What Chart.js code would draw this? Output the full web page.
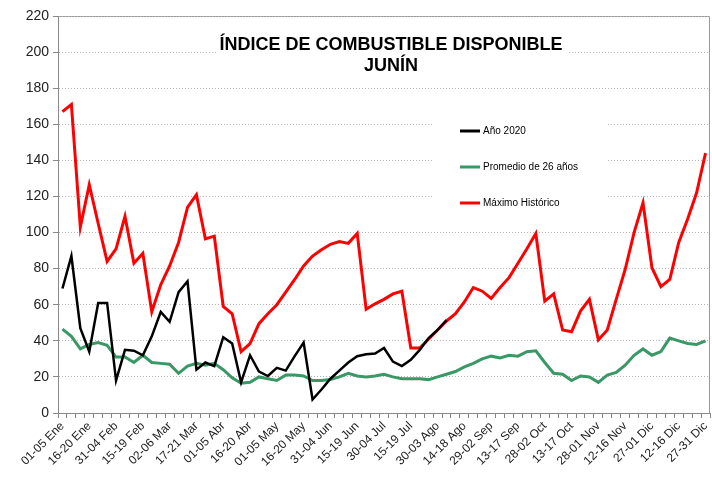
<!DOCTYPE html>
<html>
<head>
<meta charset="utf-8">
<script src="https://cdn.jsdelivr.net/npm/chart.js@4/dist/chart.umd.min.js"></script>
<style>
  html, body { margin: 0; padding: 0; background: #fff; }
  #wrap { width: 712px; height: 478px; }
</style>
</head>
<body>
<div id="wrap"><canvas id="chart"></canvas></div>
<script>
// ─── Datos ──────────────────────────────────────

const pentadas = [
  '01-05 Ene','06-10 Ene','11-15 Ene','16-20 Ene','21-25 Ene','26-30 Ene',
  '31-04 Feb','05-09 Feb','10-14 Feb','15-19 Feb','20-24 Feb','25-01 Mar',
  '02-06 Mar','07-11 Mar','12-16 Mar','17-21 Mar','22-26 Mar','27-31 Mar',
  '01-05 Abr','06-10 Abr','11-15 Abr','16-20 Abr','21-25 Abr','26-30 Abr',
  '01-05 May','06-10 May','11-15 May','16-20 May','21-25 May','26-30 May',
  '31-04 Jun','05-09 Jun','10-14 Jun','15-19 Jun','20-24 Jun','25-29 Jun',
  '30-04 Jul','05-09 Jul','10-14 Jul','15-19 Jul','20-24 Jul','25-29 Jul',
  '30-03 Ago','04-08 Ago','09-13 Ago','14-18 Ago','19-23 Ago','24-28 Ago',
  '29-02 Sep','03-07 Sep','08-12 Sep','13-17 Sep','18-22 Sep','23-27 Sep',
  '28-02 Oct','03-07 Oct','08-12 Oct','13-17 Oct','18-22 Oct','23-27 Oct',
  '28-01 Nov','02-06 Nov','07-11 Nov','12-16 Nov','17-21 Nov','22-26 Nov',
  '27-01 Dic','02-06 Dic','07-11 Dic','12-16 Dic','17-21 Dic','22-26 Dic',
  '27-31 Dic'
];

const anio2020 = [
  69, 87, 47, 34, 61, 61, 18, 35, 34.5, 32, 42.5, 56, 50.5, 67, 73, 24, 28, 26,
  42, 38.5, 17, 32, 23, 20.5, 25, 23.5, 31.5, 39, 7.5, 13, 19, 23.5, 28, 31.5,
  32.5, 33, 36, 28.5, 26, 29.5, 35, 41.5, 46, 51.5
];

const promedio26 = [
  46.5, 42.5, 35.5, 38, 39, 37.5, 31, 31, 28, 32, 28, 27.5, 27, 22, 26, 27.5,
  26.5, 27.5, 24, 19.5, 16.5, 17, 20, 19, 18, 21, 21, 20.5, 18, 18, 18.5, 20,
  22, 20.5, 20, 20.5, 21.5, 20, 19, 19, 19, 18.5, 20, 21.5, 23, 25.5, 27.5, 30,
  31.5, 30.5, 32, 31.5, 34, 34.5, 28, 22, 21.5, 18, 20.5, 20, 17, 21, 22.5,
  26.5, 32, 35.5, 32, 34, 41.5, 40, 38.5, 38, 40
];

const maximoHistorico = [
  167, 171, 103, 126.5, 105, 84, 91, 109, 83, 88.5, 56, 71, 81.5, 94.5, 114,
  121, 96.5, 98, 59, 55, 34, 38.5, 49.5, 55, 60, 67, 74, 81.5, 87, 90.5, 93.5,
  95, 94, 99.5, 57.5, 60.5, 63, 66, 67.5, 36, 36, 41, 46, 51, 55, 61.5, 69.5,
  67.5, 63.5, 69.5, 75, 83, 91, 99.5, 62, 66, 46, 45, 56.5, 63, 40.5, 46, 63,
  79.5, 100, 116.5, 80.5, 70, 74, 94.5, 107.5, 122, 144
];

const titulo = ['ÍNDICE DE COMBUSTIBLE DISPONIBLE', 'JUNÍN'];

const FONT = "'Liberation Sans', Arial, sans-serif";

// Título y leyenda dentro del área del gráfico (estilo Excel)
const cajaTexto = {
  id: 'cajaTexto',
  beforeDraw(chart) {
    const { ctx, chartArea: a } = chart;
    ctx.save();
    ctx.strokeStyle = '#9a9a9a';
    ctx.lineWidth = 1;
    ctx.beginPath();
    ctx.moveTo(a.left, a.top + 0.5);
    ctx.lineTo(a.right - 0.5, a.top + 0.5);
    ctx.lineTo(a.right - 0.5, a.bottom);
    ctx.stroke();
    ctx.restore();
  },
  beforeDatasetsDraw(chart) {
    const { ctx } = chart;
    ctx.save();
    // título
    ctx.fillStyle = '#fff';
    ctx.fillRect(216, 32, 352, 44);
    ctx.fillStyle = '#000';
    ctx.font = 'bold 18px ' + FONT;
    ctx.textAlign = 'center';
    ctx.textBaseline = 'middle';
    ctx.fillText(titulo[0], 391, 45);
    ctx.fillText(titulo[1], 391, 66);

    // leyenda
    ctx.fillStyle = '#fff';
    ctx.fillRect(432, 104, 175, 112);
    ctx.font = '10px ' + FONT;
    ctx.textAlign = 'left';
    chart.data.datasets.forEach((ds, i) => {
      const y = 131 + i * 36;
      ctx.strokeStyle = ds.borderColor;
      ctx.lineWidth = 3;
      ctx.beginPath();
      ctx.moveTo(460, y);
      ctx.lineTo(480, y);
      ctx.stroke();
      ctx.fillStyle = '#000';
      ctx.fillText(ds.label, 483, y);
    });
    ctx.restore();
  }
};

new Chart(document.getElementById('chart'), {
  type: 'line',
  data: {
    labels: pentadas,
    datasets: [
      { label: 'Año 2020', data: anio2020, borderColor: '#000000', borderWidth: 2.5 },
      { label: 'Promedio de 26 años', data: promedio26, borderColor: '#3a9866', borderWidth: 3 },
      { label: 'Máximo Histórico', data: maximoHistorico, borderColor: '#ff0000', borderWidth: 3 },
    ],
  },
  options: {
    responsive: true,
    maintainAspectRatio: false,
    animation: false,
    layout: { padding: { top: 16, right: 2, left: 0, bottom: 0 } },
    elements: { point: { radius: 0 }, line: { tension: 0 } },
    plugins: {
      legend: { display: false },
      tooltip: { enabled: false },
    },
    scales: {
      x: {
        offset: true,
        grid: { offset: true, drawOnChartArea: false, drawTicks: true, tickLength: 5, tickColor: '#888' },
        border: { color: '#888', width: 1 },
        ticks: {
          autoSkip: false,
          maxRotation: 45,
          minRotation: 45,
          padding: 1,
          color: '#222',
          font: { family: FONT, size: 12 },
          callback: (v, i) => (i % 3 === 0 ? pentadas[i] : ''),
        },
        afterFit: s => { s.height = 65; s.paddingLeft = 0; s.paddingRight = 0; },
      },
      y: {
        min: 0, max: 220,
        grid: { color: '#b4b4b4', tickColor: '#888', tickLength: 5, tickBorderDash: [] },
        border: { color: '#888', width: 1, dash: [1, 2] },
        ticks: { stepSize: 20, padding: 4, color: '#222', font: { family: FONT, size: 14 } },
        afterFit: s => { s.width = 58; s.paddingTop = 0; s.paddingBottom = 0; },
      },
    },
  },
  plugins: [cajaTexto],
});
</script>
</body>
</html>
